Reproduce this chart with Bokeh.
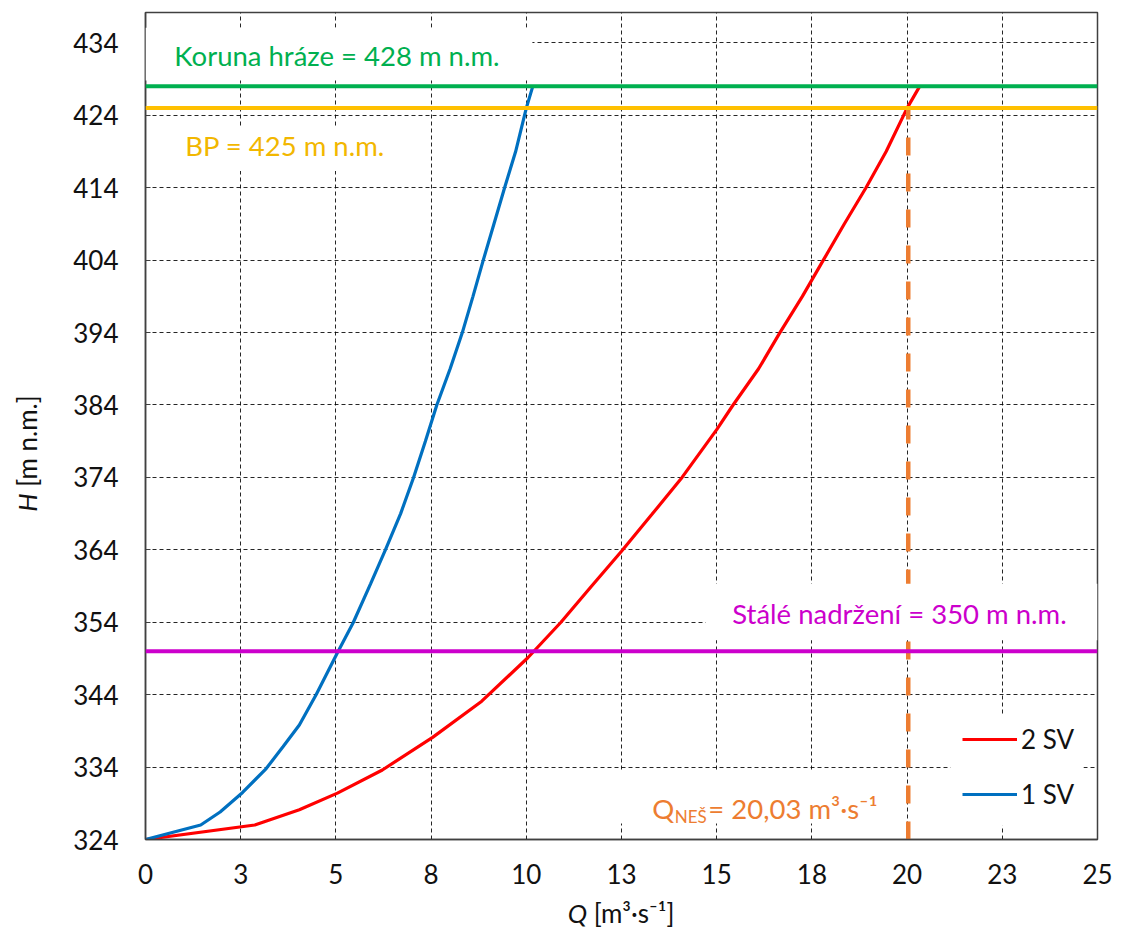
import math

from bokeh.plotting import figure
from bokeh.layouts import row, column
from bokeh.models import (Range1d, FixedTicker, Span, BoxAnnotation, Label,
                          Legend, LegendItem, Div)
from bokeh.embed import file_html
from bokeh.resources import INLINE

# Rating curves of the bottom outlets: discharge Q [m3/s] vs. water level H [m n.m.]
q_one_sv = [0, 1.45, 1.96, 2.55, 3.17, 3.61, 4.04, 4.48, 5.04, 5.45, 5.91, 6.30,
            6.70, 7.04, 7.35, 7.65, 8.00, 8.32, 8.60, 8.87, 9.15, 9.43, 9.72,
            10.00, 10.17]
h_one_sv = [324, 326.0, 327.8, 330.5, 333.8, 336.8, 339.8, 344.0, 349.8, 353.9,
            359.3, 364.0, 369.0, 374.0, 379.0, 384.0, 389.0, 394.0, 399.0, 404.0,
            409.0, 414.0, 419.0, 425.0, 428.0]

q_two_sv = [0, 2.87, 4.04, 5.04, 6.22, 7.54, 8.83, 10.04, 10.91, 11.70, 12.50,
            13.30, 14.09, 15.00, 15.43, 16.10, 16.66, 17.25, 17.80, 18.35, 18.92,
            19.45, 20.00, 20.33]
h_two_sv = [324, 326.0, 328.1, 330.4, 333.6, 338.1, 343.1, 349.1, 354.0, 358.9,
            363.8, 368.9, 374.0, 380.6, 384.0, 389.0, 394.0, 399.0, 404.0, 409.0,
            414.0, 419.0, 425.0, 428.0]

# Characteristic levels and the design discharge
crest_level = 428        # Koruna hráze
bp_level = 425           # BP
permanent_level = 350    # Stálé nadržení
q_nes = 20.03            # Q_NEŠ

# Axes
x_min, x_max = 0, 25
y_min, y_max = 324, 438.2
x_ticks = [0, 2.5, 5, 7.5, 10, 12.5, 15, 17.5, 20, 22.5, 25]
x_tick_labels = ["0", "3", "5", "8", "10", "13", "15", "18", "20", "23", "25"]
y_ticks = [324, 334, 344, 354, 364, 374, 384, 394, 404, 414, 424, 434]

FONT = "Lato"
FS_TICK = "26px"
FS_NOTE = "27.5px"
TEXT = "#111111"
AXIS_GREY = "#404040"

TITLE_W = 55      # strip holding the vertical axis title
TITLE_H = 39      # strip holding the horizontal axis title

p = figure(frame_width=952, frame_height=827,
           x_range=Range1d(x_min, x_max), y_range=Range1d(y_min, y_max),
           output_backend="svg", toolbar_location=None, title=None,
           min_border_left=145 - TITLE_W, min_border_right=36,
           min_border_top=12, min_border_bottom=99 - TITLE_H,
           background_fill_color="white", border_fill_color="white")

p.outline_line_color = AXIS_GREY
p.outline_line_width = 1.5

# Axes and ticks
p.xaxis.ticker = FixedTicker(ticks=x_ticks)
p.xaxis.major_label_overrides = {float(t): lab for t, lab in zip(x_ticks, x_tick_labels)}
p.yaxis.ticker = FixedTicker(ticks=y_ticks)
for ax in (p.xaxis[0], p.yaxis[0]):
    ax.axis_line_color = AXIS_GREY
    ax.axis_line_width = 1.5
    ax.major_label_text_font = FONT
    ax.major_label_text_font_size = FS_TICK
    ax.major_label_text_color = TEXT
    ax.minor_tick_line_color = None
    ax.major_tick_out = 0
p.xaxis.major_tick_in = 0
p.xaxis.major_label_standoff = 24
p.yaxis.major_tick_in = 5
p.yaxis.major_tick_line_color = AXIS_GREY
p.yaxis.major_label_standoff = 27

# Dashed grid
p.xgrid.ticker = FixedTicker(ticks=x_ticks)
p.ygrid.ticker = FixedTicker(ticks=y_ticks)
for g in (p.xgrid[0], p.ygrid[0]):
    g.grid_line_color = "black"
    g.grid_line_dash = "4 3"
    g.grid_line_width = 1
    g.grid_line_alpha = 0.85

# Rating curves
r_two = p.line(q_two_sv, h_two_sv, line_color="#FF0000", line_width=3.2)
r_one = p.line(q_one_sv, h_one_sv, line_color="#0070C0", line_width=3.2)

# Design discharge marker from the bottom of the axis up to BP
p.line([q_nes, q_nes], [y_min, bp_level], line_color="#ED7D31",
       line_width=4.5, line_dash="18 18")

# Horizontal level lines
for lvl, col in ((crest_level, "#00B050"), (bp_level, "#FFC000"),
                 (permanent_level, "#CC00CC")):
    p.add_layout(Span(location=lvl, dimension="width", line_color=col,
                      line_width=4))


# White panels behind the notes and the legend
def panel(left, right, bottom, top):
    p.add_layout(BoxAnnotation(left=left, right=right, bottom=bottom, top=top,
                               fill_color="white", fill_alpha=1.0,
                               line_color=None, line_alpha=0))


panel(0.0, 10.16, 428.8, 436.1)
panel(0.3, 6.96, 416.3, 422.3)
panel(14.71, 25.0, 351.5, 359.3)
panel(11.95, 19.70, 326.2, 333.5)
panel(21.14, 24.63, 325.9, 341.1)


def label(x, y, text, color, size=FS_NOTE, align="left", baseline="middle"):
    p.add_layout(Label(x=x, y=y, text=text, text_color=color, text_font=FONT,
                       text_font_size=size, text_align=align,
                       text_baseline=baseline))


label(5.12, 432.2, "Koruna hráze =  428 m n.m.", "#00B050", align="center")
label(3.76, 419.8, "BP =  425 m n.m.", "#F2B700", align="center")
label(19.80, 355.2, "Stálé nadržení = 350 m n.m.", "#CC00CC", align="center")

# Q_NEŠ note with subscript
label(13.31, 328.3, "Q", "#ED7D31", baseline="alphabetic")
label(13.90, 327.2, "NEŠ", "#ED7D31", size="17px", baseline="alphabetic")
label(14.78, 328.3, "= 20,03 m³·s⁻¹", "#ED7D31", baseline="alphabetic")

# Legend
legend = Legend(items=[LegendItem(label="2 SV", renderers=[r_two]),
                       LegendItem(label="1 SV", renderers=[r_one])],
                location=(817, 29), orientation="vertical",
                label_text_font=FONT, label_text_font_size=FS_TICK,
                label_text_color=TEXT,
                glyph_width=55, glyph_height=30, label_height=30,
                label_standoff=4, spacing=23, padding=12, margin=0,
                border_line_color=None, background_fill_color="white",
                background_fill_alpha=1.0)
p.add_layout(legend)

# Axis titles (italic quantity symbol followed by the unit)
title_css = f"font-family:{FONT};font-size:26px;color:{TEXT};white-space:nowrap;"
y_title = Div(
    text=(f'<div style="width:{TITLE_W}px;height:907px;display:flex;'
          f'align-items:center;justify-content:center;">'
          f'<div style="transform:rotate(-90deg);{title_css}">'
          f'<i>H</i> [m n.m.]</div></div>'),
    width=TITLE_W, height=938, margin=0)
x_title = Div(
    text=(f'<div style="width:{2 * (145 - TITLE_W + 476)}px;text-align:center;'
          f'line-height:28px;{title_css}"><i>Q</i> [m³·s⁻¹]</div>'),
    width=145 - TITLE_W + 952 + 36, height=TITLE_H, margin=0)

layout = row(y_title, column(p, x_title, spacing=0), spacing=0)

with open("out.html", "w") as f:
    f.write(file_html(layout, INLINE))
